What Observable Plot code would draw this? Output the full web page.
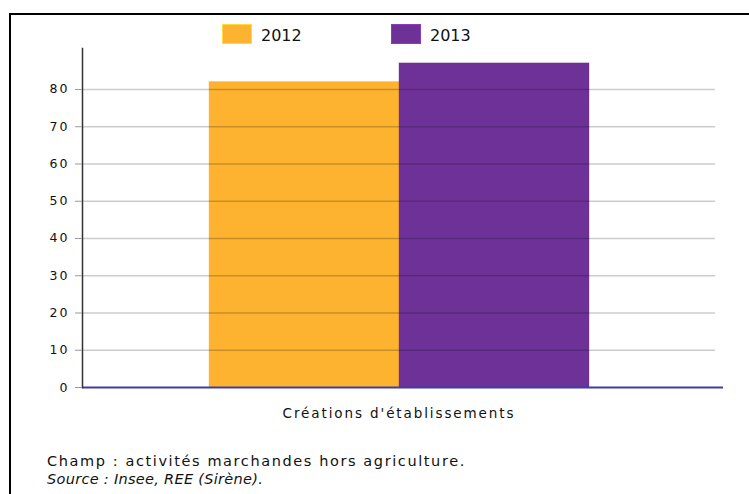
<!DOCTYPE html>
<html>
<head>
<meta charset="utf-8">
<script src="https://cdn.jsdelivr.net/npm/d3@7"></script>
<script src="https://cdn.jsdelivr.net/npm/@observablehq/plot@0.6"></script>
<style>
  html, body { margin: 0; padding: 0; background: #fff; }
  body { width: 749px; height: 494px; overflow: hidden; position: relative; font-family: "DejaVu Sans", Verdana, sans-serif; }
  #frame { position: absolute; left: 9px; top: 13px; width: 800px; height: 600px; border: 2px solid #000; box-sizing: border-box; }
  #chart { position: absolute; left: 0; top: 0; }
  .sw { position: absolute; width: 30px; height: 20px; box-sizing: border-box; }
  .lg { position: absolute; font-size: 16px; line-height: 20px; color: #111; }
  #foot { position: absolute; left: 47px; top: 452px; font-size: 14.5px; line-height: 18px; color: #111; }
  #foot .l1 { letter-spacing: 1.6px; }
  #foot .l2 { letter-spacing: 0.3px; }
</style>
</head>
<body>
<div id="frame"></div>
<div id="chart"></div>
<div id="legend"></div>
<div id="foot"></div>
<script>
const categories = ["Créations d'établissements"];
const years = ["2012", "2013"];
const values2012 = [82];
const values2013 = [87];
const yTicks = [0, 10, 20, 30, 40, 50, 60, 70, 80];
const colors = ["#FDB230", "#6E3198"];
const footLine1 = "Champ : activités marchandes hors agriculture.";
const footLine2 = "Source : Insee, REE (Sirène).";

const data = categories.flatMap((c, i) => [
  {cat: c, year: years[0], value: values2012[i]},
  {cat: c, year: years[1], value: values2013[i]}
]);

const chart = Plot.plot({
  width: 749,
  height: 437,
  marginTop: 48,
  marginLeft: 82,
  marginRight: 34,
  marginBottom: 50,
  style: {fontFamily: "DejaVu Sans", background: "transparent", overflow: "visible", color: "#111"},
  fx: {domain: categories, padding: 0, label: null, axis: null},
  x: {domain: years, paddingInner: 0, paddingOuter: 0.661, axis: null},
  y: {domain: [0, 91], axis: null},
  color: {domain: years, range: colors},
  marks: [
    Plot.barY(data, {fx: "cat", x: "year", y: "value", fill: "year", stroke: "year", strokeOpacity: 0.35, strokeWidth: 1}),
    Plot.ruleY(yTicks.slice(1), {stroke: "#000", strokeOpacity: 0.2, strokeWidth: 1.5}),
    Plot.ruleY([0], {stroke: "#3d3daa", strokeWidth: 2, insetRight: -8}),
    Plot.frame({anchor: "left", stroke: "#333", strokeWidth: 1.5}),
    Plot.axisY({ticks: yTicks, label: null, tickSize: 7, tickPadding: 6, stroke: "#999", fontSize: 12.5, fill: "#111", tickFormat: d => String(d)}),
    Plot.axisFx({anchor: "bottom", label: null, tickSize: 0, tickPadding: 21, fontSize: 13.5, fill: "#111"})
  ]
});
document.getElementById("chart").appendChild(chart);

// letter spacing for the wide original lettering
d3.select(chart).selectAll("g[aria-label='y-axis tick label'] text").style("letter-spacing", "2px");
d3.select(chart).selectAll("g[aria-label='fx-axis tick label'] text").style("letter-spacing", "1.9px");

// legend
const legend = document.getElementById("legend");
const legendX = [222, 391];
years.forEach((y, i) => {
  const sw = document.createElement("div");
  sw.className = "sw";
  sw.style.left = legendX[i] + "px";
  sw.style.top = "24px";
  sw.style.background = colors[i];
  sw.style.border = "1px solid " + d3.color(colors[i]).brighter(0.6);
  legend.appendChild(sw);
  const lb = document.createElement("div");
  lb.className = "lg";
  lb.style.left = (legendX[i] + 39) + "px";
  lb.style.top = "26px";
  lb.textContent = y;
  legend.appendChild(lb);
});

// footer
const foot = document.getElementById("foot");
const l1 = document.createElement("div");
l1.className = "l1";
l1.textContent = footLine1;
const l2 = document.createElement("div");
l2.className = "l2";
const em = document.createElement("i");
em.textContent = footLine2;
l2.appendChild(em);
foot.appendChild(l1);
foot.appendChild(l2);
</script>
</body>
</html>
